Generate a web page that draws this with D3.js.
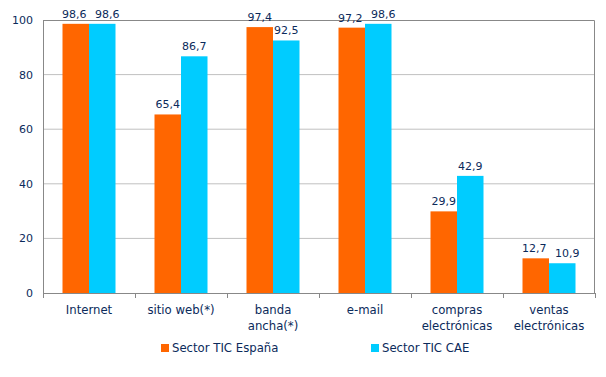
<!DOCTYPE html>
<html>
<head>
<meta charset="utf-8">
<script src="https://cdn.jsdelivr.net/npm/d3@7"></script>
<style>
  body { margin: 0; background: #fff; }
  svg text { font-family: "DejaVu Sans", Verdana, sans-serif; fill: #0b2a5b; }
</style>
</head>
<body>
<svg id="chart" width="606" height="377"></svg>
<script>
const categories = [
  ["Internet"],
  ["sitio web(*)"],
  ["banda", "ancha(*)"],
  ["e-mail"],
  ["compras", "electrónicas"],
  ["ventas", "electrónicas"]
];
const seriesNames = ["Sector TIC España", "Sector TIC CAE"];
const espana = [98.6, 65.4, 97.4, 97.2, 29.9, 12.7];
const cae = [98.6, 86.7, 92.5, 98.6, 42.9, 10.9];
const yTicks = [0, 20, 40, 60, 80, 100];
const colors = ["#ff6600", "#00ccff"];

const margin = { top: 20, right: 11, bottom: 84, left: 43 };
const width = 606 - margin.left - margin.right;
const height = 377 - margin.top - margin.bottom;
const fs = 11;
const fsLabel = 11.7;

const svg = d3.select("#chart");
const g = svg.append("g").attr("transform", `translate(${margin.left},${margin.top})`);

const x0 = d3.scaleBand().domain(d3.range(categories.length)).range([0, width]);
const y = d3.scaleLinear().domain([0, 100]).range([height, 0]);
const barW = 26.5;

// gridlines
g.selectAll("line.grid")
  .data(yTicks.filter(d => d > 0 && d < 100))
  .join("line")
  .attr("x1", 0).attr("x2", width)
  .attr("y1", d => y(d)).attr("y2", d => y(d))
  .attr("stroke", "#c0c0c0");

// frame top and right
g.append("path")
  .attr("d", `M0,0.5H${width - 0.5}V${height}`)
  .attr("fill", "none")
  .attr("stroke", "#888");

// bars
const data = categories.map((c, i) => [espana[i], cae[i]]);
const groups = g.selectAll("g.cat")
  .data(data)
  .join("g")
  .attr("transform", (d, i) => `translate(${x0(i) + x0.bandwidth() / 2 - barW},0)`);

groups.selectAll("rect")
  .data(d => d)
  .join("rect")
  .attr("x", (d, j) => j * barW)
  .attr("y", d => y(d))
  .attr("width", barW)
  .attr("height", d => height - y(d))
  .attr("fill", (d, j) => colors[j]);

// value labels, pushed apart when both sit at about the same height
groups.each(function (pair) {
  const close = Math.abs(y(pair[0]) - y(pair[1])) < 12;
  d3.select(this).selectAll("text")
    .data(pair)
    .join("text")
    .attr("x", (d, j) => j * barW + barW / 2 + (close ? (j === 0 ? -1.5 : 5) : 0))
    .attr("y", d => y(d) - 6)
    .attr("text-anchor", "middle")
    .attr("font-size", fs)
    .text(d => d3.format(".1f")(d).replace(".", ","));
});

// y axis
const yAxis = g.append("g")
  .call(d3.axisLeft(y).tickValues(yTicks).tickSize(0).tickPadding(10));
yAxis.select(".domain").attr("stroke", "#888");
yAxis.selectAll("text").attr("font-size", fs).style("font-family", "DejaVu Sans, Verdana, sans-serif").attr("fill", "#0b2a5b");

// x axis
const xb = d3.scaleLinear().domain([0, categories.length]).range([0, width]);
const xAxis = g.append("g")
  .attr("transform", `translate(0,${height})`)
  .call(d3.axisBottom(xb).tickValues(d3.range(categories.length + 1)).tickSize(5).tickFormat(""));
xAxis.select(".domain").attr("stroke", "#888");
xAxis.selectAll(".tick line").attr("stroke", "#888");

const labels = g.selectAll("text.cat")
  .data(categories)
  .join("text")
  .attr("class", "cat")
  .attr("text-anchor", "middle")
  .attr("font-size", fsLabel)
  .attr("transform", (d, i) => `translate(${x0(i) + x0.bandwidth() / 2},${height + 21})`);
labels.selectAll("tspan")
  .data(d => d)
  .join("tspan")
  .attr("x", 0)
  .attr("dy", (d, k) => k === 0 ? 0 : 16)
  .text(d => d);

// legend
const legendX = [161, 371];
const legend = svg.selectAll("g.legend")
  .data(seriesNames)
  .join("g")
  .attr("transform", (d, i) => `translate(${legendX[i]},344)`);
legend.append("rect")
  .attr("width", 8).attr("height", 8)
  .attr("fill", (d, i) => colors[i]);
legend.append("text")
  .attr("x", 11).attr("y", 8)
  .attr("font-size", fsLabel)
  .text(d => d);
</script>
</body>
</html>
